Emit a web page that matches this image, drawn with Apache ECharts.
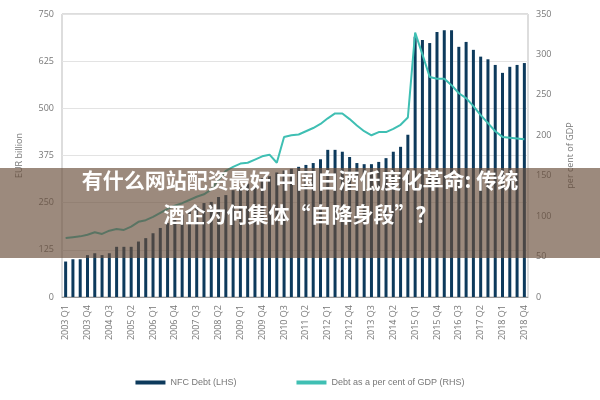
<!DOCTYPE html>
<html><head><meta charset="utf-8">
<script src="https://cdn.jsdelivr.net/npm/echarts@6/dist/echarts.min.js"></script>
<style>html,body{margin:0;padding:0;background:#fff}#c{width:600px;height:400px}</style>
</head><body><div id="c"></div>
<script>
const categories = [];
for (let y = 2003; y <= 2018; y++) for (let q = 1; q <= 4; q++) categories.push(y + ' Q' + q);
const nfcDebt = [94,100,100,111,116,111,116,133,133,133,147,156,169,183,196,207,218,231,241,249,252,265,270,283,
 290,300,305,315,320,330,335,340,345,350,355,365,390,390,385,371,355,352,352,358,368,385,398,430,
 690,681,673,702,707,707,663,676,655,637,630,615,594,610,615,620];
const debtPctGdp = [73,74,75,77,80,78,82,84,83,87,93,95,99,104,109,113,116,120,124,127,133,145,156,161,
 165,166,170,174,176,166,198,200,201,205,209,214,221,227,227,220,212,205,200,204,204,208,213,222,
 327,300,272,270,270,262,252,246,236,225,215,205,198,197,196,195];
const leftTicks = [0,125,250,375,500,625,750];
const rightTicks = [0,50,100,150,200,250,300,350];

const chart = echarts.init(document.getElementById('c'));
const txt = {color:'#777', fontSize:9, fontFamily:'Open Sans'};
chart.setOption({
  animation:false,
  grid:{left:62,right:72,top:14,bottom:103,show:true,borderColor:'#bbb',borderWidth:1},
  legend:{bottom:8,left:'center',itemGap:60,textStyle:{color:'#777',fontSize:9},
    data:[{name:'NFC Debt (LHS)',icon:'rect',itemStyle:{color:'#0d3a5c'}},
          {name:'Debt as a per cent of GDP (RHS)',icon:'rect',itemStyle:{color:'#3fbfb3'}}],
    itemWidth:30,itemHeight:4},
  xAxis:{type:'category',data:categories,
    axisLine:{lineStyle:{color:'#999'}},axisTick:{show:false},
    axisLabel:Object.assign({rotate:90,interval:2},txt)},
  yAxis:[
    {type:'value',min:0,max:750,interval:125,name:'EUR billion',nameLocation:'middle',nameGap:38,nameRotate:90,
     nameTextStyle:txt,axisLabel:txt,splitLine:{lineStyle:{color:'#e3e3e3'}}},
    {type:'value',min:0,max:350,interval:50,name:'per cent of GDP',nameLocation:'middle',nameGap:38,nameRotate:90,
     nameTextStyle:txt,axisLabel:txt,splitLine:{show:false}}
  ],
  series:[
    {name:'NFC Debt (LHS)',type:'bar',data:nfcDebt,barWidth:3,itemStyle:{color:'#0d3a5c'}},
    {name:'Debt as a per cent of GDP (RHS)',type:'line',yAxisIndex:1,data:debtPctGdp,symbol:'none',
     lineStyle:{color:'#3fbfb3',width:2},itemStyle:{color:'#3fbfb3'}}
  ],
  graphic:[
    {type:'rect',left:0,top:168,shape:{width:600,height:90},style:{fill:'rgba(105,78,58,0.66)'},z:100},
    {type:'text',left:'center',top:170,style:{text:'有什么网站配资最好 中国白酒低度化革命: 传统',fill:'#fff',
      font:'bold 21px "Noto Sans CJK SC"'},z:101},
    {type:'text',left:'center',top:204,style:{text:'酒企为何集体“自降身段”？',fill:'#fff',
      font:'bold 21px "Noto Sans CJK SC"'},z:101}
  ]
});
</script></body></html>
